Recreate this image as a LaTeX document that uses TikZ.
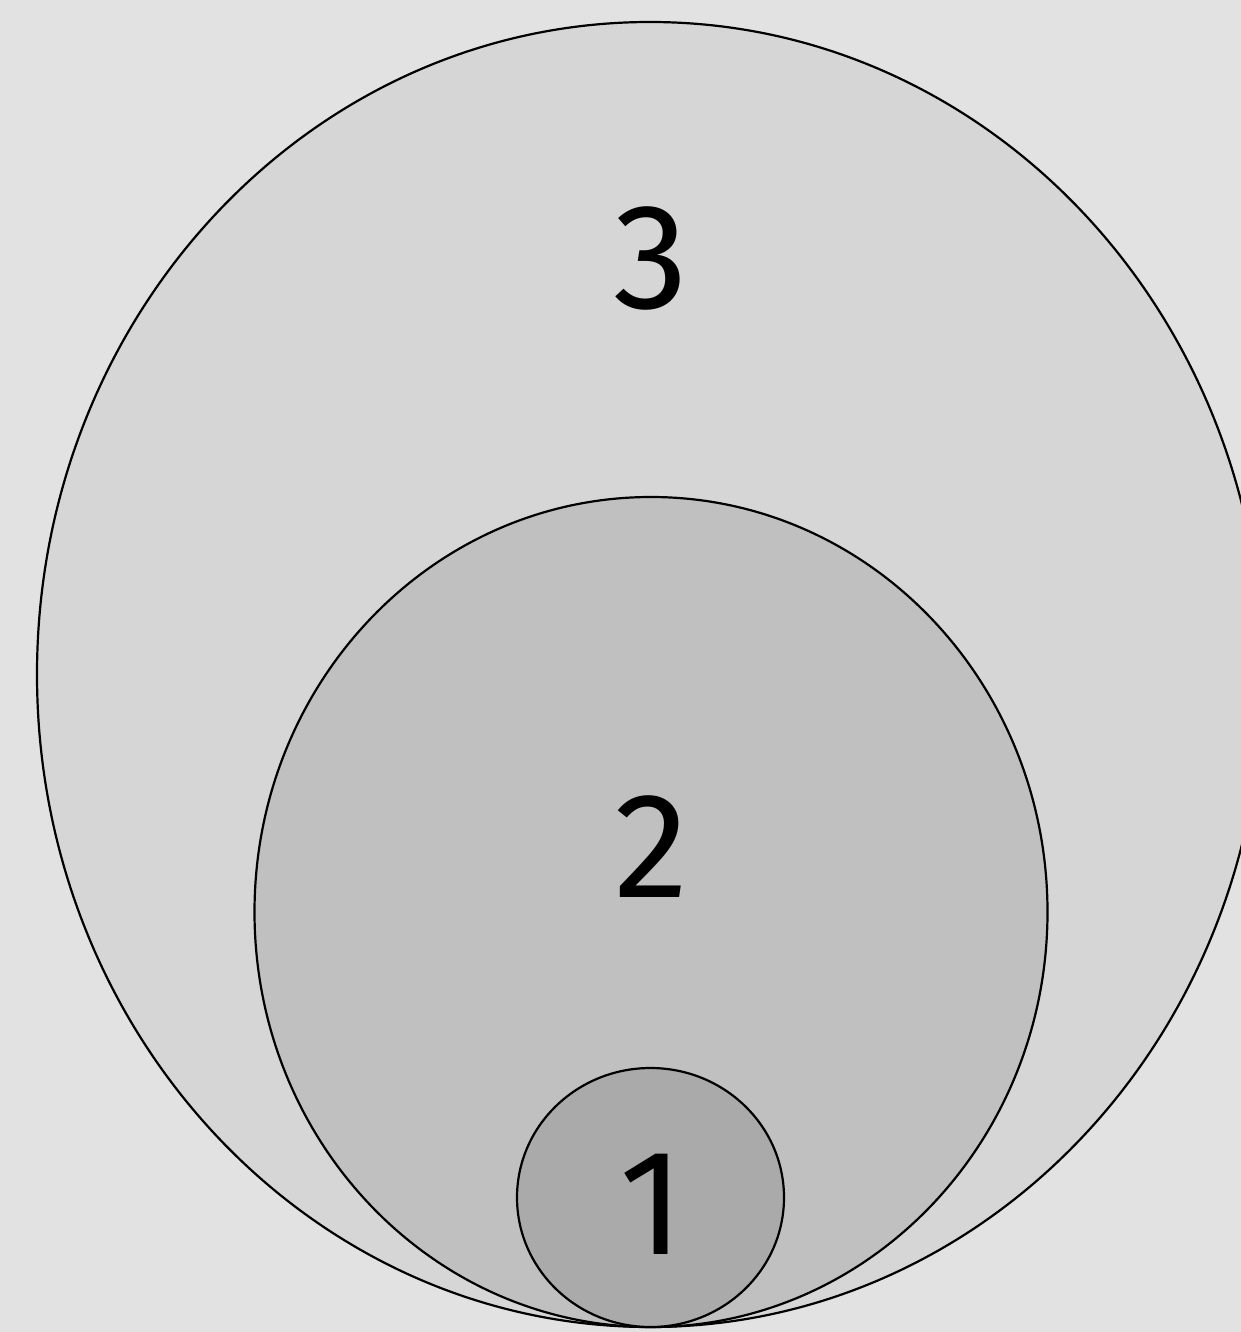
\documentclass[tikz,border=0pt]{standalone}
\usepackage{fontspec}
\setmainfont{Fira Sans}
\definecolor{bgc}{HTML}{E2E2E2}
\definecolor{c3}{HTML}{D6D6D6}
\definecolor{c2}{HTML}{C0C0C0}
\definecolor{c1}{HTML}{AAAAAA}
\begin{document}
\begin{tikzpicture}[x=1pt,y=-1pt,
  ring/.style={draw=black,line width=2.2pt},
  lbl/.style={font=\fontsize{150}{150}\selectfont,text=black,inner sep=0pt}]
\fill[bgc] (0,0) rectangle (1241,1332);
\useasboundingbox (0,0) rectangle (1241,1332);
\draw[ring,fill=c3] (650,674.5) ellipse [x radius=613, y radius=652.5];
\draw[ring,fill=c2] (651,912) ellipse [x radius=396.5, y radius=415];
\draw[ring,fill=c1] (650.5,1197.5) ellipse [x radius=133.5, y radius=129.5];
\node[lbl,anchor=base] (l3) at (651,308) {3};
\node[lbl,anchor=base] (l2) at (652,897) {2};
\node[lbl,anchor=base] (l1) at (652,1254) {1};
\end{tikzpicture}
\end{document}
